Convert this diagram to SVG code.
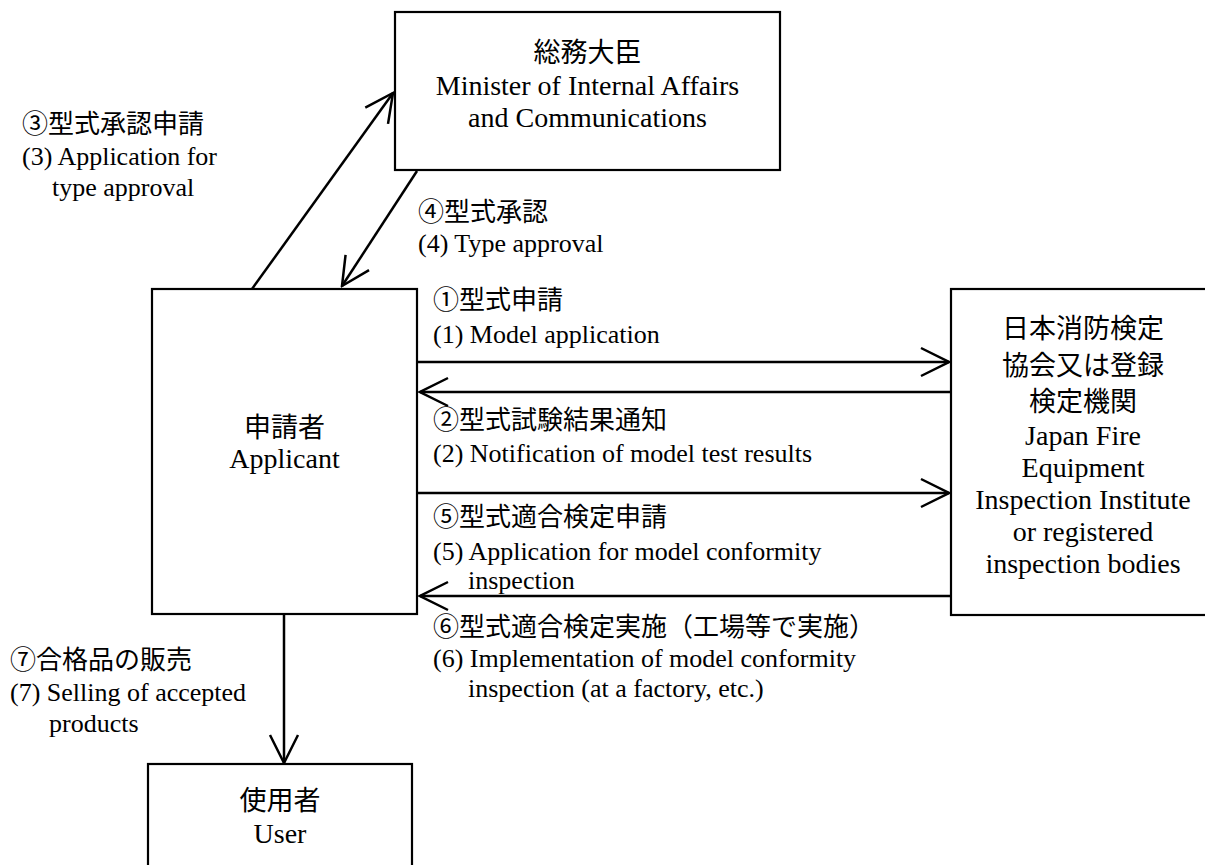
<svg xmlns="http://www.w3.org/2000/svg" width="1205" height="865" viewBox="0 0 1205 865">
<style>
.box{fill:#fff;stroke:#000;stroke-width:2.2}
.jp{font-family:"Noto Sans CJK JP","Noto Sans",sans-serif;fill:#000}
.en{font-family:"Liberation Serif","Times New Roman",serif;fill:#000}
.nj{font-size:27px}
.ne{font-size:28px}
.lj{font-size:26px}
.le{font-size:26px}
.mid{text-anchor:middle}
.conn line{stroke:#000;stroke-width:2.5;marker-end:url(#arr)}
</style>
<defs>
<marker id="arr" markerUnits="userSpaceOnUse" viewBox="0 0 32 32" markerWidth="32" markerHeight="32" refX="30" refY="16" orient="auto">
<path d="M2,2 L30,16 L2,30" fill="none" stroke="#000" stroke-width="2.5"/>
</marker>
</defs>
<rect width="1205" height="865" fill="#fff"/>

<g id="minister">
<rect class="box" x="395" y="12" width="385" height="158"/>
<text class="jp nj mid" x="587.5" y="62">総務大臣</text>
<text class="en ne mid" x="587.5" y="95">Minister of Internal Affairs</text>
<text class="en ne mid" x="587.5" y="127">and Communications</text>
</g>

<g id="applicant">
<rect class="box" x="152" y="289" width="265" height="325"/>
<text class="jp nj mid" x="284.5" y="437">申請者</text>
<text class="en ne mid" x="284.5" y="468">Applicant</text>
</g>

<g id="inspection">
<rect class="box" x="951" y="289" width="264" height="326"/>
<text class="jp nj mid" x="1083" y="338">日本消防検定</text>
<text class="jp nj mid" x="1083" y="375">協会又は登録</text>
<text class="jp nj mid" x="1083" y="411">検定機関</text>
<text class="en ne mid" x="1083" y="445">Japan Fire</text>
<text class="en ne mid" x="1083" y="477">Equipment</text>
<text class="en ne mid" x="1083" y="509">Inspection Institute</text>
<text class="en ne mid" x="1083" y="541">or registered</text>
<text class="en ne mid" x="1083" y="573">inspection bodies</text>
</g>

<g id="user">
<rect class="box" x="148" y="764" width="264" height="120"/>
<text class="jp nj mid" x="280" y="810">使用者</text>
<text class="en ne mid" x="280" y="843">User</text>
</g>

<g id="connectors" class="conn">
<line x1="252" y1="289" x2="393" y2="93"/>
<line x1="417" y1="171" x2="342" y2="286"/>
<line x1="417" y1="362" x2="949" y2="362"/>
<line x1="951" y1="392" x2="420" y2="392"/>
<line x1="417" y1="493" x2="949" y2="493"/>
<line x1="951" y1="596" x2="420" y2="596"/>
<line x1="284" y1="614" x2="284" y2="763"/>
</g>

<g id="labels">
<text class="jp lj" x="22" y="133">③型式承認申請</text>
<text class="en le" x="22" y="165">(3) Application for</text>
<text class="en le" x="52" y="196">type approval</text>

<text class="jp lj" x="418" y="221">④型式承認</text>
<text class="en le" x="418" y="252">(4) Type approval</text>

<text class="jp lj" x="433" y="309">①型式申請</text>
<text class="en le" x="433" y="343">(1) Model application</text>

<text class="jp lj" x="433" y="429">②型式試験結果通知</text>
<text class="en le" x="433" y="462">(2) Notification of model test results</text>

<text class="jp lj" x="433" y="526">⑤型式適合検定申請</text>
<text class="en le" x="433" y="560">(5) Application for model conformity</text>
<text class="en le" x="468" y="589">inspection</text>

<text class="jp lj" x="433" y="636">⑥型式適合検定実施（工場等で実施）</text>
<text class="en le" x="433" y="667">(6) Implementation of model conformity</text>
<text class="en le" x="468" y="697">inspection (at a factory, etc.)</text>

<text class="jp lj" x="10" y="669">⑦合格品の販売</text>
<text class="en le" x="10" y="701">(7) Selling of accepted</text>
<text class="en le" x="49" y="732">products</text>
</g>
</svg>
